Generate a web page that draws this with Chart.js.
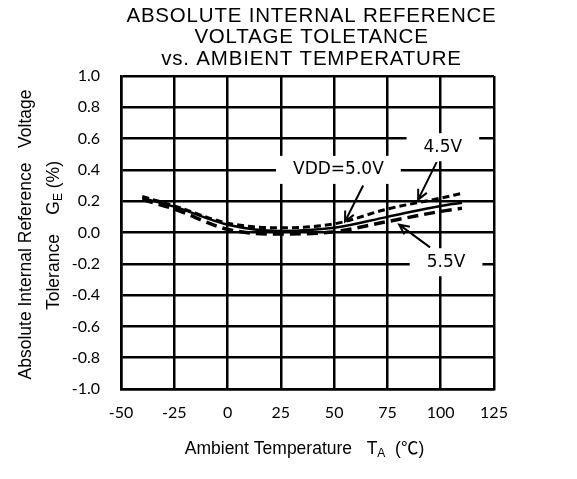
<!DOCTYPE html>
<html>
<head>
<meta charset="utf-8">
<script src="https://cdn.jsdelivr.net/npm/chart.js@4.4.0/dist/chart.umd.min.js"></script>
<style>
html, body { margin: 0; padding: 0; background: #fff; }
#wrap { width: 577px; height: 479px; }
</style>
</head>
<body>
<div id="wrap"><canvas id="myChart" width="577" height="479"></canvas></div>
<script>
const temps = [-40, -25, 0, 25, 50, 75, 100, 110];
// tolerance GE (%) per supply voltage
const vdd45 = [0.23, 0.17, 0.06, 0.03, 0.055, 0.15, 0.22, 0.25];
const vdd50 = [0.22, 0.165, 0.05, 0.01, 0.03, 0.10, 0.17, 0.19];
const vdd55 = [0.21, 0.15, 0.02, -0.01, 0.005, 0.07, 0.135, 0.155];

const xMin = -50, xMax = 125, xStep = 25;
const yMin = -1.0, yMax = 1.0, yStep = 0.2;

const titleLines = ['ABSOLUTE INTERNAL REFERENCE', 'VOLTAGE TOLETANCE', 'vs. AMBIENT TEMPERATURE'];

// callouts, in data units
const calloutText = ['VDD=5.0V', '4.5V', '5.5V'];
const calloutAt = [[52, 0.40], [101, 0.545], [102.5, -0.19]];
const arrowFrom = [[63.6, 0.30], [98.1, 0.45], [95, -0.095]];
const arrowTo = [[55.1, 0.07], [89.4, 0.21], [80.5, 0.05]];

function pts(ys) {
    return temps.map((t, i) => ({x: t, y: ys[i]}));
}

function drawRich(ctx, parts, cx, cy, angle) {
    ctx.save();
    ctx.translate(cx, cy);
    ctx.rotate(angle);
    let total = 0;
    parts.forEach(p => {
        ctx.font = p.size + 'px "Liberation Sans", "Noto Sans CJK JP", sans-serif';
        p.w = ctx.measureText(p.t).width;
        total += p.w;
    });
    let x = -total / 2;
    ctx.textAlign = 'left';
    ctx.textBaseline = 'middle';
    ctx.fillStyle = '#000';
    parts.forEach(p => {
        ctx.font = p.size + 'px "Liberation Sans", "Noto Sans CJK JP", sans-serif';
        ctx.fillText(p.t, x, p.dy || 0);
        x += p.w;
    });
    ctx.restore();
}

const extras = {
    id: 'extras',
    afterDraw(chart) {
        const ctx = chart.ctx;
        const xs = chart.scales.x, ys = chart.scales.y;
        const area = chart.chartArea;
        const mid = (area.left + area.right) / 2;

        // title
        ctx.save();
        ctx.fillStyle = '#000';
        ctx.font = '20.5px "Liberation Sans", Arial, sans-serif';
        ctx.textAlign = 'center';
        ctx.textBaseline = 'middle';
        if ('letterSpacing' in ctx) ctx.letterSpacing = '0.8px';
        titleLines.forEach((l, i) => {
            ctx.fillText(l, mid + 4, 16 + i * 21.5);
        });
        ctx.restore();

        // axis titles
        drawRich(ctx, [{t: 'Absolute Internal Reference   Voltage', size: 17.5}], 26, (area.top + area.bottom) / 2 + 2, -Math.PI / 2);
        drawRich(ctx, [
            {t: 'Tolerance    G', size: 17.5},
            {t: 'E', size: 12, dy: 5},
            {t: ' (%)', size: 17.5}
        ], 54, (area.top + area.bottom) / 2 + 3, -Math.PI / 2);
        drawRich(ctx, [
            {t: 'Ambient Temperature   T', size: 17.5},
            {t: 'A', size: 12, dy: 5},
            {t: '  (\u2103)', size: 17.5}
        ], mid - 3, area.bottom + 60, 0);

        // callout arrows
        ctx.save();
        ctx.strokeStyle = '#000';
        ctx.lineWidth = 2;
        arrowFrom.forEach((f, i) => {
            const x1 = xs.getPixelForValue(f[0]), y1 = ys.getPixelForValue(f[1]);
            const x2 = xs.getPixelForValue(arrowTo[i][0]), y2 = ys.getPixelForValue(arrowTo[i][1]);
            const a = Math.atan2(y2 - y1, x2 - x1);
            ctx.beginPath();
            ctx.moveTo(x1, y1);
            ctx.lineTo(x2, y2);
            ctx.moveTo(x2 - 11 * Math.cos(a - 0.45), y2 - 11 * Math.sin(a - 0.45));
            ctx.lineTo(x2, y2);
            ctx.lineTo(x2 - 11 * Math.cos(a + 0.45), y2 - 11 * Math.sin(a + 0.45));
            ctx.stroke();
        });
        ctx.restore();

        // callout labels with white boxes
        ctx.save();
        ctx.font = '17px "DejaVu Sans", sans-serif';
        ctx.textAlign = 'center';
        ctx.textBaseline = 'middle';
        calloutText.forEach((t, i) => {
            const cx = xs.getPixelForValue(calloutAt[i][0]);
            const cy = ys.getPixelForValue(calloutAt[i][1]);
            const w = ctx.measureText(t).width + 34;
            ctx.fillStyle = '#fff';
            ctx.fillRect(cx - w / 2, cy - 14, w, 28);
            ctx.fillStyle = '#000';
            ctx.fillText(t, cx, cy);
        });
        ctx.restore();
    }
};

const ctx = document.getElementById('myChart').getContext('2d');
const myChart = new Chart(ctx, {
    type: 'line',
    data: {
        datasets: [
            {label: '5.0V', data: pts(vdd50), borderColor: '#000', borderWidth: 2.5, borderDash: []},
            {label: '4.5V', data: pts(vdd45), borderColor: '#000', borderWidth: 3, borderDash: [7, 4]},
            {label: '5.5V', data: pts(vdd55), borderColor: '#000', borderWidth: 3.5, borderDash: [11, 6]},
        ],
    },
    options: {
        responsive: false,
        animation: false,
        devicePixelRatio: 1,
        layout: {padding: {top: 76, right: 83, left: 0, bottom: 0}},
        elements: {point: {radius: 0}, line: {tension: 0.4, cubicInterpolationMode: 'monotone'}},
        plugins: {legend: {display: false}, tooltip: {enabled: false}},
        scales: {
            x: {
                type: 'linear', min: xMin, max: xMax,
                afterFit: s => { s.height = 90; },
                ticks: {stepSize: xStep, padding: 14, color: '#000', font: {family: 'Lato', size: 16}},
                grid: {color: '#000', lineWidth: 2.5, drawTicks: false},
                border: {color: '#000', width: 2.5},
            },
            y: {
                type: 'linear', min: yMin, max: yMax,
                afterFit: s => { s.width = 121; },
                ticks: {
                    stepSize: yStep, padding: 21, color: '#000', font: {family: 'Lato', size: 16},
                    callback: v => Math.abs(v) < 1e-9 ? '0.0' : v.toFixed(1),
                },
                grid: {color: '#000', lineWidth: 2.5, drawTicks: false},
                border: {color: '#000', width: 2.5},
            },
        },
    },
    plugins: [extras],
});
</script>
</body>
</html>
